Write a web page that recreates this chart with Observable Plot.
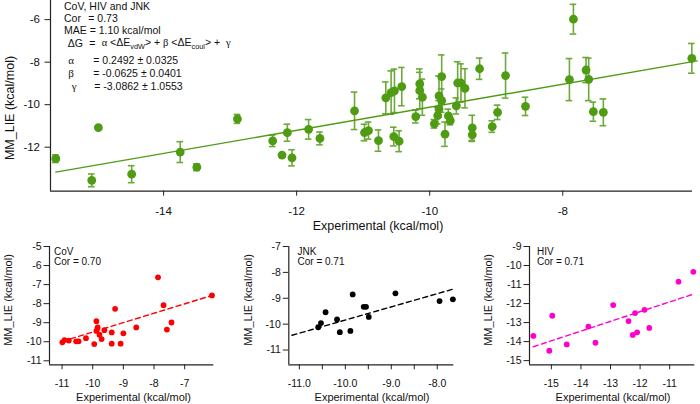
<!DOCTYPE html>
<html><head><meta charset="utf-8">
<script src="https://cdn.jsdelivr.net/npm/d3@7"></script>
<script src="https://cdn.jsdelivr.net/npm/@observablehq/plot@0.6"></script>
<style>
body{margin:0;background:#fff;}
#root{position:relative;width:700px;height:404px;overflow:hidden;font-family:"Liberation Sans",Arial,sans-serif;color:#111;}
.t{position:absolute;white-space:pre;line-height:1;transform:translateY(-50%);}
.g{font-family:"Liberation Serif","DejaVu Serif",serif;}
.rot{position:absolute;white-space:pre;line-height:1;transform:translate(-50%,-50%) rotate(-90deg);}
.ctr{position:absolute;white-space:pre;line-height:1;transform:translate(-50%,-50%);}
sub{font-size:0.7em;vertical-align:-0.35em;line-height:0;}
</style>
</head><body><div id="root"></div>
<script>
// ---- Top panel: all systems (experimental vs MM_LIE, with error bars)
const allExp = [-15.62,-15.08,-14.98,-14.48,-13.75,-13.50,-12.89,-12.36,-12.22,-12.14,-12.07,-11.82,-11.65,
  -11.13,-10.98,-10.92,-10.77,-10.66,-10.58,-10.53,-10.54,-10.46,-10.42,-10.21,-10.15,-10.15,-10.11,
  -9.93,-9.88,-9.86,-9.86,-9.82,-9.82,-9.77,-9.72,-9.69,-9.60,-9.58,-9.53,-9.47,-9.36,-9.36,-9.25,
  -9.06,-8.98,-8.86,-8.56,-7.90,-7.84,-7.65,-7.61,-7.54,-7.39,-6.06];
const allLie = [-12.54,-13.56,-11.08,-13.27,-12.23,-12.94,-10.67,-11.70,-12.37,-11.32,-12.50,-11.16,-11.59,
  -10.29,-11.31,-11.22,-11.69,-9.68,-9.43,-9.35,-11.50,-11.72,-9.15,-10.56,-9.02,-9.34,-9.65,
  -10.90,-10.51,-9.59,-10.20,-9.81,-8.68,-11.39,-10.53,-10.75,-10.06,-8.98,-8.98,-9.23,-11.09,-11.42,-8.31,
  -11.03,-10.36,-8.63,-10.08,-8.82,-5.98,-8.37,-8.81,-10.33,-10.36,-7.82];
const allErr = [0.18,0.30,0.03,0.40,0.49,0.16,0.21,0.27,0.03,0.40,0.38,0.46,0.30,
  0.88,0.39,0.40,0.50,0.75,1.02,1.02,0.44,0.49,0.90,0.30,0.70,0.86,0.85,
  0.20,0.39,0.94,0.39,0.55,1.02,0.57,0.32,0.20,0.38,1.00,0.90,0.92,0.59,0.31,0.50,
  0.27,0.34,1.06,0.43,0.99,0.70,0.59,1.00,0.45,0.63,0.70];
const allFitX = [-15.62,-5.98];
const allFitY = [-13.17,-7.94];
const topXTicks = [-14,-12,-10,-8];
const topYTicks = [-12,-10,-8,-6];

// ---- CoV
const covExp = [-10.99,-10.92,-10.78,-10.54,-10.46,-10.22,-9.95,-9.88,-9.88,-9.84,-9.78,-9.71,-9.62,-9.38,-9.38,-9.27,-9.09,-9.00,-8.58,-7.87,-7.69,-7.58,-7.43,-6.11];
const covLie = [-10.03,-9.91,-9.94,-9.98,-9.98,-9.81,-10.12,-8.92,-9.43,-9.25,-9.63,-9.86,-9.39,-9.51,-10.10,-8.27,-10.10,-9.56,-9.25,-6.62,-8.08,-9.36,-8.99,-7.57];
const covFitX = [-10.99,-6.11];
const covFitY = [-9.98,-7.57];
const covXTicks = [-11,-10,-9,-8,-7];
const covYTicks = [-11,-10,-9,-8,-7,-6,-5];

// ---- JNK
const jnkExp = [-10.59,-10.53,-10.43,-10.18,-10.12,-9.89,-9.84,-9.60,-9.55,-9.49,-8.91,-7.95,-7.66];
const jnkLie = [-10.12,-9.96,-9.54,-9.82,-10.31,-10.26,-8.85,-9.33,-9.33,-9.72,-8.81,-9.11,-9.04];
const jnkFitX = [-11.16,-7.64];
const jnkFitY = [-10.43,-8.64];
const jnkXTicks = [-11,-10.5,-10,-9.5,-9,-8.5,-8];
const jnkYTicks = [-11,-10,-9,-8,-7];

// ---- HIV
const hivExp = [-15.61,-15.07,-14.97,-14.48,-13.75,-13.51,-12.91,-12.39,-12.25,-12.17,-12.10,-11.85,-11.69,-10.70,-10.20];
const hivLie = [-13.70,-14.48,-12.64,-14.15,-13.21,-14.06,-12.08,-12.92,-13.65,-12.50,-13.51,-12.33,-13.28,-10.85,-10.33];
const hivFitX = [-15.61,-10.17];
const hivFitY = [-14.27,-11.49];
const hivXTicks = [-15,-14,-13,-12,-11];
const hivYTicks = [-15,-14,-13,-12,-11,-10,-9];

const FONT = '"Liberation Sans", Arial, sans-serif';
const root = document.getElementById("root");
const zip = (xs, ys) => xs.map((x, i) => ({x, y: ys[i]}));
const hy = d => String(d).replace("\u2212", "-");

function place(el, left, topPx) {
  const w = document.createElement("div");
  w.style.cssText = `position:absolute;left:${left}px;top:${topPx}px;`;
  w.appendChild(el);
  root.appendChild(w);
}
function txt(cls, x, y, html, size, extra) {
  const d = document.createElement("div");
  d.className = cls;
  d.style.left = x + "px"; d.style.top = y + "px";
  d.style.fontSize = size + "px";
  if (extra) d.style.cssText += extra;
  d.innerHTML = html;
  root.appendChild(d);
}

// ---------- TOP ----------
const green = "#4f9c14", greenBar = "#6caa38";
const topData = allExp.map((x, i) => ({x, y: allLie[i], e: allErr[i]}));
const topXd = [-15.70, -6.05], topYd = [-14.07, -5.1];
const mainPlot = Plot.plot({
  width: 700, height: 235,
  marginLeft: 50, marginRight: 8, marginTop: 0, marginBottom: 44.3,
  style: {fontFamily: FONT, fontSize: "11.5px", background: "transparent", color: "#111", overflow: "visible"},
  x: {domain: topXd},
  y: {domain: topYd},
  marks: [
    Plot.ruleX(topData, {x: "x", y1: d => d.y - d.e, y2: d => d.y + d.e, stroke: greenBar, strokeWidth: 1.6}),
    Plot.ruleY(topData, {x1: "x", x2: "x", y: d => d.y + d.e, insetLeft: -3.3, insetRight: -3.3, stroke: greenBar, strokeWidth: 1.6}),
    Plot.ruleY(topData, {x1: "x", x2: "x", y: d => d.y - d.e, insetLeft: -3.3, insetRight: -3.3, stroke: greenBar, strokeWidth: 1.6}),
    Plot.line(zip(allFitX, allFitY), {x: "x", y: "y", stroke: green, strokeWidth: 1.4}),
    Plot.dot(topData, {x: "x", y: "y", r: 4.4, fill: green, stroke: "none"}),
    Plot.ruleX([topXd[0]], {stroke: "#222", strokeWidth: 1.2}),
    Plot.ruleY([topYd[0]], {stroke: "#222", strokeWidth: 1.2}),
    Plot.axisX({ticks: topXTicks, tickFormat: hy, tickSize: 5, tickPadding: 11, label: null, stroke: "#222"}),
    Plot.axisY({ticks: topYTicks, tickFormat: hy, tickSize: 5.5, tickPadding: 5, label: null, stroke: "#222"})
  ]
});
place(mainPlot, 0, 0);

// ---------- small panels ----------
function small({left, width, ml, mr, xd, yd, xt, yt, xfmt, data, fit, color}) {
  const p = Plot.plot({
    width, height: 174,
    marginLeft: ml, marginRight: mr, marginTop: 16, marginBottom: 39.7,
    style: {fontFamily: FONT, fontSize: "10.5px", background: "transparent", color: "#111", overflow: "visible"},
    x: {domain: xd},
    y: {domain: yd},
    marks: [
      Plot.line(fit, {x: "x", y: "y", stroke: color, strokeWidth: 1.4, strokeDasharray: "5,3.5"}),
      Plot.dot(data, {x: "x", y: "y", r: 2.9, fill: color, stroke: "none"}),
      Plot.ruleX([xd[0]], {stroke: "#222", strokeWidth: 1.2}),
      Plot.ruleY([yd[0]], {stroke: "#222", strokeWidth: 1.2}),
      Plot.axisX({ticks: xt, tickFormat: xfmt, tickSize: 5, tickPadding: 10, label: null, stroke: "#222"}),
      Plot.axisY({ticks: yt, tickFormat: hy, tickSize: 5.5, tickPadding: 2.5, label: null, stroke: "#222"})
    ]
  });
  place(p, left, 230);
}
small({left: 0, width: 233, ml: 49, mr: 19.7, xd: [-11.41, -6.05], yd: [-11.21, -5],
  xt: covXTicks, yt: covYTicks, xfmt: hy, data: zip(covExp, covLie), fit: zip(covFitX, covFitY), color: "#ff0000"});
small({left: 233, width: 233, ml: 55.3, mr: 12.7, xd: [-11.23, -7.64], yd: [-11.57, -7],
  xt: jnkXTicks, yt: jnkYTicks, xfmt: d => Number.isInteger(d) ? d.toFixed(1) : "",
  data: zip(jnkExp, jnkLie), fit: zip(jnkFitX, jnkFitY), color: "#000000"});
small({left: 466, width: 234, ml: 63, mr: 5.7, xd: [-15.74, -10.15], yd: [-15.22, -9],
  xt: hivXTicks, yt: hivYTicks, xfmt: hy, data: zip(hivExp, hivLie), fit: zip(hivFitX, hivFitY), color: "#ff00cc"});

// ---------- text ----------
const F = 10.5;
txt("t", 64, 6, "CoV, HIV and JNK", F);
txt("t", 64, 17.5, "Cor", F);
txt("t", 88.3, 17.5, "= 0.73", F);
txt("t", 64, 29.5, "MAE = 1.10 kcal/mol", F);
txt("t", 67.7, 43, "&Delta;G", F);
txt("t", 89.3, 43, "=", F);
txt("t", 101.7, 43, '<span class="g">&alpha;</span> &lt;&Delta;E<sub>vdW</sub>&gt; + <span class="g">&beta;</span> &lt;&Delta;E<sub>coul</sub>&gt; +  <span class="g">&gamma;</span>', F);
txt("t g", 68.3, 60, "&alpha;", F + 0.5);
txt("t", 93.3, 60, "= 0.2492 &plusmn; 0.0325", F);
txt("t g", 68.3, 72.5, "&beta;", F + 0.5);
txt("t", 93.3, 72.5, "= -0.0625 &plusmn; 0.0401", F);
txt("t g", 71.7, 86, "&gamma;", F + 0.5);
txt("t", 94.3, 86, "= -3.0862 &plusmn; 1.0553", F);

txt("rot", 10, 108, "MM_LIE (kcal/mol)", 12.5);
txt("ctr", 378, 226, "Experimental (kcal/mol)", 12.5);

txt("t", 54, 252, "CoV", 10);
txt("t", 54, 262, "Cor = 0.70", 10);
txt("t", 297.5, 252, "JNK", 10);
txt("t", 297.5, 262, "Cor = 0.71", 10);
txt("t", 537, 252, "HIV", 10);
txt("t", 537, 262, "Cor = 0.71", 10);

txt("rot", 7.5, 300, "MM_LIE (kcal/mol)", 11);
txt("rot", 247.5, 300, "MM_LIE (kcal/mol)", 11);
txt("rot", 487.5, 300, "MM_LIE (kcal/mol)", 11);
txt("ctr", 133.5, 397, "Experimental (kcal/mol)", 11);
txt("ctr", 372, 397, "Experimental (kcal/mol)", 11);
txt("ctr", 613, 397, "Experimental (kcal/mol)", 11);
</script>
</body></html>
